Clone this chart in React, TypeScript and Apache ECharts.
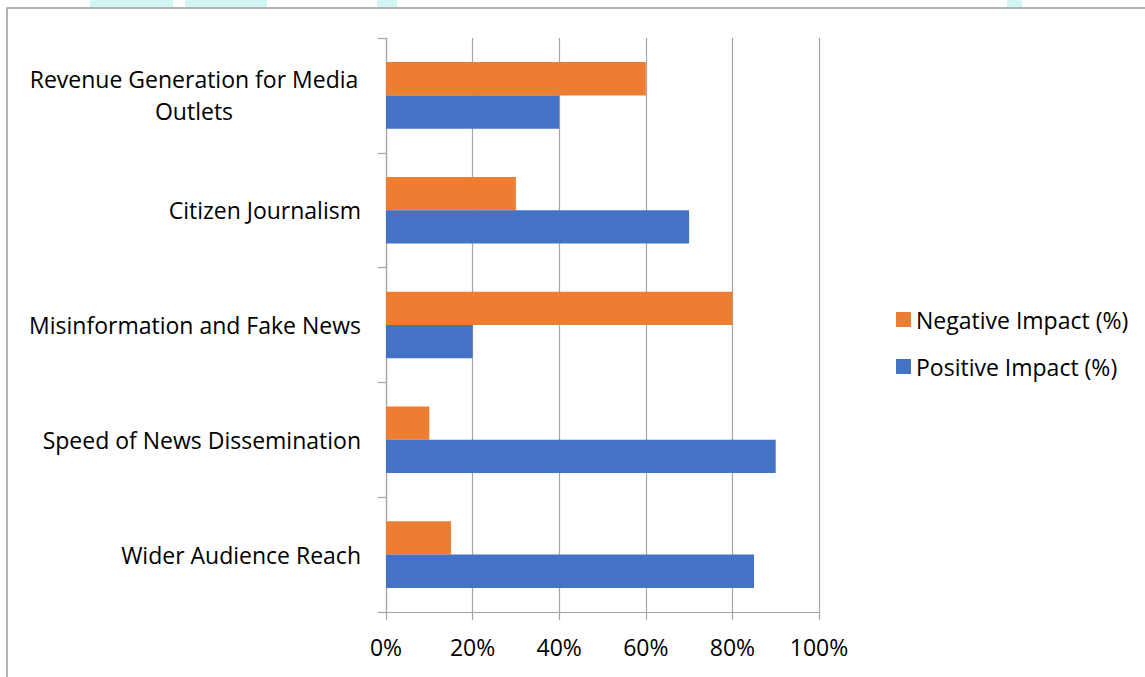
import React, { useEffect, useRef } from "react";
import * as echarts from "echarts";

const categories = [
  "Wider Audience Reach",
  "Speed of News Dissemination",
  "Misinformation and Fake News",
  "Citizen Journalism",
  "Revenue Generation for Media Outlets",
];
const positiveImpact = [85, 90, 20, 70, 40];
const negativeImpact = [15, 10, 80, 30, 60];
const xTicks = [0, 20, 40, 60, 80, 100];

const FONT = "Open Sans";
const FS = 23;

const watermarkBlobs = [
  [90, 173],
  [185, 267],
  [377, 397],
  [1007, 1022],
];

export default function App() {
  const ref = useRef<HTMLDivElement>(null);
  useEffect(() => {
    if (!ref.current) return;
    const chart = echarts.init(ref.current, undefined, { renderer: "svg" });
    chart.setOption({
      animation: false,
      backgroundColor: "#ffffff",
      textStyle: { fontFamily: FONT },
      graphic: [
        ...watermarkBlobs.map(([a, b]) => ({
          type: "rect",
          shape: { x: a, y: 0, width: b - a, height: 7 },
          style: { fill: "#d2f7f7" },
          silent: true,
        })),
        {
          type: "rect",
          shape: { x: 7, y: 8, width: 1200, height: 700 },
          style: { fill: "none", stroke: "#9a9a9a", lineWidth: 1.5 },
          silent: true,
        },
      ],
      grid: { left: 386, right: 326, top: 38, bottom: 65 },
      legend: {
        orient: "vertical",
        left: 891,
        top: 303,
        itemWidth: 15,
        itemHeight: 15,
        itemGap: 24,
        icon: "rect",
        data: ["Negative Impact (%)", "Positive Impact (%)"],
        textStyle: { fontFamily: FONT, fontSize: FS, color: "#000" },
      },
      xAxis: {
        type: "value",
        min: xTicks[0],
        max: xTicks[xTicks.length - 1],
        interval: 20,
        axisLine: { show: true, lineStyle: { color: "#a6a6a6", width: 1.2 } },
        axisTick: { show: true, length: 8, lineStyle: { color: "#a6a6a6", width: 1.2 } },
        splitLine: { show: true, lineStyle: { color: "#a6a6a6", width: 1.2 } },
        axisLabel: {
          formatter: "{value}%",
          fontFamily: FONT,
          fontSize: FS,
          color: "#000",
          margin: 23,
        },
      },
      yAxis: {
        type: "category",
        data: categories,
        axisLine: { show: true, lineStyle: { color: "#a6a6a6", width: 1.2 } },
        axisTick: { show: true, length: 8, alignWithLabel: false, lineStyle: { color: "#a6a6a6", width: 1.2 } },
        axisLabel: {
          fontFamily: FONT,
          fontSize: FS,
          color: "#000",
          margin: 25,
          lineHeight: 32,
          formatter: (v: string) => {
            if (v === "Revenue Generation for Media Outlets") {
              return "{c|Revenue Generation for Media}\n{c|Outlets}";
            }
            return v;
          },
          rich: {
            c: {
              width: 334,
              align: "center",
              fontFamily: FONT,
              fontSize: FS,
              color: "#000",
              lineHeight: 32,
            },
          },
        },
      },
      series: [
        {
          name: "Negative Impact (%)",
          type: "bar",
          data: negativeImpact,
          itemStyle: { color: "#ED7D31" },
          barGap: "0%",
          barCategoryGap: "42%",
        },
        {
          name: "Positive Impact (%)",
          type: "bar",
          data: positiveImpact,
          itemStyle: { color: "#4472C4" },
          barGap: "0%",
          barCategoryGap: "42%",
        },
      ],
    });
    return () => chart.dispose();
  }, []);
  return (
    <div
      ref={ref}
      style={{ position: "fixed", left: 0, top: 0, width: 1145, height: 677 }}
    />
  );
}
